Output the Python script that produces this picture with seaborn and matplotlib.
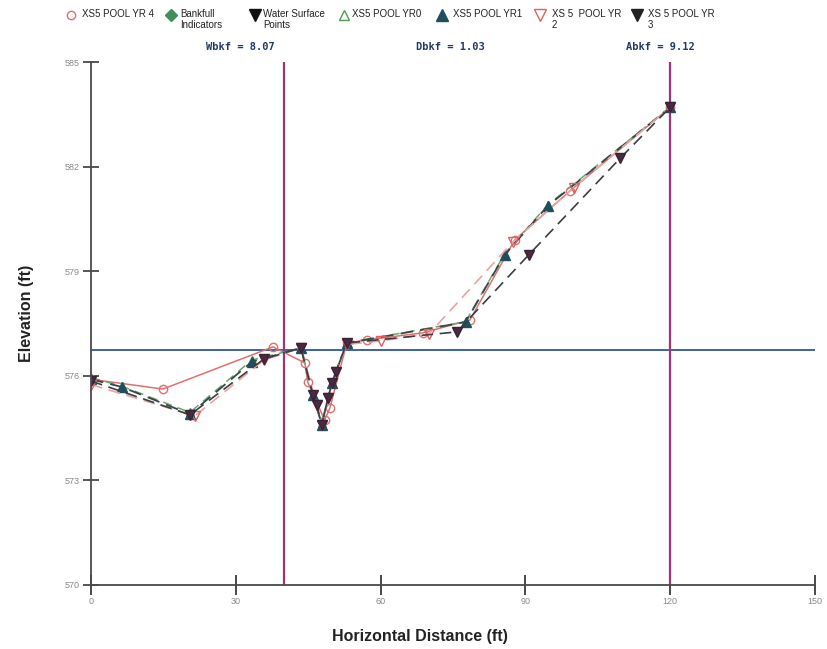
import matplotlib
matplotlib.use("Agg")
import matplotlib.pyplot as plt
from matplotlib.lines import Line2D
import seaborn as sns
import pandas as pd

# Cross-section survey series (station ft, elevation ft)
yr4_x = [0, 14.9, 37.7, 44.3, 44.9, 48.4, 49.5, 53.0, 57.1, 68.7, 78.5, 87.8, 99.2, 120]
yr4_y = [575.9, 575.62, 576.83, 576.37, 575.82, 574.73, 575.08, 576.94, 577.03, 577.23, 577.6, 579.9, 581.3, 583.7]

yr0_x = [0, 6.4, 20.5, 33.3, 43.5, 46.0, 47.8, 49.9, 53.0, 77.6, 85.7, 94.6, 120]
yr0_y = [575.95, 575.7, 574.95, 576.45, 576.8, 575.45, 574.65, 575.8, 576.95, 577.55, 579.5, 580.9, 583.7]

yr1_x = [0, 6.4, 20.5, 33.3, 43.5, 46.0, 47.8, 49.9, 53.0, 77.6, 85.7, 94.6, 120]
yr1_y = [575.9, 575.68, 574.9, 576.4, 576.8, 575.45, 574.6, 575.8, 576.94, 577.54, 579.47, 580.87, 583.7]

yr2_x = [0, 21.5, 35.8, 43.5, 46.8, 47.8, 49.1, 50.7, 53.0, 60, 70, 87.5, 100, 120]
yr2_y = [575.75, 574.85, 576.45, 576.8, 575.15, 574.6, 575.35, 576.1, 576.9, 577.0, 577.2, 579.85, 581.4, 583.7]

yr3_x = [0, 20.5, 35.8, 43.5, 46.0, 46.8, 47.8, 49.1, 49.9, 50.7, 53.0, 75.8, 90.7, 109.7, 120]
yr3_y = [575.85, 574.88, 576.48, 576.8, 575.45, 575.16, 574.59, 575.36, 575.79, 576.11, 576.94, 577.26, 579.47, 582.25, 583.7]

bankfull_x, bankfull_y = [], []
water_x, water_y = [], []

bankfull_elev = 576.74
bkf_left, bkf_right = 40.0, 120.0
stats = ["Wbkf = 8.07", "Dbkf = 1.03", "Abkf = 9.12"]
stats_x = [240, 450, 660]

x_ticks = [0, 30, 60, 90, 120, 150]
y_ticks = [570, 573, 576, 579, 582, 585]

sns.set_style("white")
plt.rcParams["font.family"] = ["Liberation Sans", "DejaVu Sans"]

W, H = 828, 649
fig = plt.figure(figsize=(W / 100, H / 100), dpi=100)
ax = fig.add_axes([91 / W, 1 - 585 / H, (815 - 91) / W, (585 - 62) / H])

series = [
    ("XS5 POOL YR 4", yr4_x, yr4_y, dict(color="#e07070", ls="-", lw=1.1, marker="o", mfc="none", mec="#e07070", ms=6)),
    ("XS5 POOL YR0", yr0_x, yr0_y, dict(color="#6aa86a", ls=(0, (6, 4)), lw=1.1, marker="^", mfc="none", mec="#4f9a55", ms=6)),
    ("XS5 POOL YR1", yr1_x, yr1_y, dict(color="#2f4a4a", ls=(0, (7, 4)), lw=1.3, marker="^", mfc="#1f4e5f", mec="#1f4e5f", ms=6.5)),
    ("XS 5  POOL YR 2", yr2_x, yr2_y, dict(color="#eaa3a3", ls=(0, (7, 4)), lw=1.2, marker="v", mfc="none", mec="#e06060", ms=6.5)),
    ("XS 5 POOL YR 3", yr3_x, yr3_y, dict(color="#3d3d3d", ls=(0, (7, 4)), lw=1.2, marker="v", mfc="#4a2a42", mec="#3a2236", ms=6.5)),
]

for name, xs, ys, st in series:
    df = pd.DataFrame({"x": xs, "y": ys})
    sns.lineplot(data=df, x="x", y="y", ax=ax, sort=False, estimator=None,
                 color=st["color"], linestyle=st["ls"], linewidth=st["lw"],
                 marker=st["marker"], markerfacecolor=st["mfc"],
                 markeredgecolor=st["mec"], markersize=st["ms"], markeredgewidth=1.0)

ax.plot(bankfull_x, bankfull_y, ls="none", marker="D", color="#3f8f5a")
ax.plot(water_x, water_y, ls="none", marker="v", color="#111111")

ax.axhline(bankfull_elev, color="#3a62a8", lw=1.4, zorder=1)
ax.axvline(bkf_left, color="#a03575", lw=1.6, zorder=1)
ax.axvline(bkf_right, color="#a03575", lw=1.6, zorder=1)

ax.set_xlim(0, 150)
ax.set_ylim(570, 585)
ax.set_xticks(x_ticks)
ax.set_yticks(y_ticks)
ax.set_xticklabels([str(t) for t in x_ticks])
ax.set_yticklabels([str(t) for t in y_ticks])
for side in ["top", "right"]:
    ax.spines[side].set_visible(False)
for side in ["left", "bottom"]:
    ax.spines[side].set_color("#4a4a4a")
    ax.spines[side].set_linewidth(1.3)
ax.tick_params(axis="x", bottom=True, direction="inout", length=14, width=1.3, color="#3a3a3a",
               labelsize=6.5, labelcolor="#888888", pad=2)
ax.tick_params(axis="y", left=True, direction="inout", length=12, width=1.2, color="#3a3a3a",
               labelsize=6.5, labelcolor="#888888", pad=2)

ax.set_xlabel("Horizontal Distance (ft)", fontsize=11.5, color="#222222", fontweight="bold")
ax.set_ylabel("Elevation (ft)", fontsize=11.5, color="#222222", fontweight="bold")
ax.xaxis.set_label_coords((420 - 91) / (815 - 91), -(636 - 585) / (585 - 62))
ax.yaxis.set_label_coords(-(91 - 27) / (815 - 91), 0.52)
ax.xaxis.label.set_va("center")
ax.yaxis.label.set_va("center")

for txt, px in zip(stats, stats_x):
    fig.text(px / W, 1 - 47 / H, txt, ha="center", va="center",
             family="DejaVu Sans Mono", fontweight="bold", fontsize=7.5, color="#1f3a68")

# Legend row across the top
legend_items = [
    (71, 82, "XS5 POOL YR 4", dict(marker="o", mfc="none", mec="#e07070", ms=6)),
    (171, 180, "Bankfull\nIndicators", dict(marker="D", mfc="#3f8f5a", mec="#3f8f5a", ms=6)),
    (255, 263, "Water Surface\nPoints", dict(marker="v", mfc="#111111", mec="#111111", ms=8)),
    (344, 352, "XS5 POOL YR0", dict(marker="^", mfc="none", mec="#4f9a55", ms=7)),
    (442, 453, "XS5 POOL YR1", dict(marker="^", mfc="#1f4e5f", mec="#1f4e5f", ms=8)),
    (540, 552, "XS 5  POOL YR\n2", dict(marker="v", mfc="none", mec="#e06060", ms=8)),
    (637, 648, "XS 5 POOL YR\n3", dict(marker="v", mfc="#222222", mec="#222222", ms=8)),
]
for mx, tx, label, st in legend_items:
    fig.add_artist(Line2D([mx / W], [1 - 15 / H], transform=fig.transFigure, ls="none",
                          marker=st["marker"], markerfacecolor=st["mfc"],
                          markeredgecolor=st["mec"], markersize=st["ms"], markeredgewidth=1.0))
    fig.text(tx / W, 1 - 9 / H, label, ha="left", va="top", fontsize=7,
             color="#222222", linespacing=1.15)

fig.savefig("out.png", dpi=100, facecolor="white")
